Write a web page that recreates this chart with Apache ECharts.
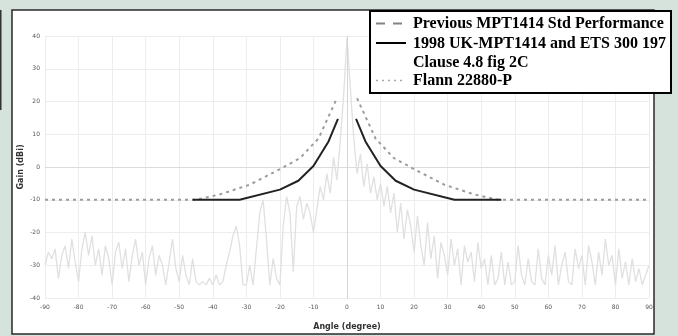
<!DOCTYPE html>
<html>
<head>
<meta charset="utf-8">
<script src="https://cdn.jsdelivr.net/npm/echarts@6/dist/echarts.min.js"></script>
<style>html,body{margin:0;padding:0;background:#d5e3dc;}#c{width:678px;height:336px;}</style>
</head>
<body>
<div id="c"></div>
<script>
// Angle axis ticks (degrees) and gain axis ticks (dBi)
const xTicks = [-90,-80,-70,-60,-50,-40,-30,-20,-10,0,10,20,30,40,50,60,70,80,90];
const yTicks = [-40,-30,-20,-10,0,10,20,30,40];

// Previous MPT1414 Std Performance envelope
const prevAngles = [-90,-45,-38,-29,-21,-14,-8.5,-3, 0, 3,8.5,14,21,29,38,45,90];
const prevGain   = [-10,-10,-8.4,-5.4,-1.2,2.7,8.7,21, null, 21,8.7,2.7,-1.2,-5.4,-8.4,-10,-10];

// 1998 UK-MPT1414 and ETS 300 197 Clause 4.8 fig 2C envelope
const newAngles = [-46,-32,-20,-14.5,-10,-5.5,-2.7, 0, 2.7,5.5,10,14.5,20,32,46];
const newGain   = [-10,-10,-6.9,-4.2,0.3,7.8,14.7, null, 14.7,7.8,0.3,-4.2,-6.9,-10,-10];

// Flann 22880-P measured pattern, sampled every 1 degree from -90 to 90
const flannStart = -90;
const flannGain = [
 -30,-26,-28,-25,-34,-27,-24,-31,-22,-29,
 -35,-25,-20,-27,-21,-30,-25,-33,-24,-28,
 -36,-26,-23,-31,-25,-35,-27,-22,-30,-26,
 -36,-28,-24,-33,-27,-30,-36,-29,-22,-31,
 -35,-27,-33,-36,-28,-35,-36,-35,-36,-34,
 -36,-33,-36,-35,-30,-26,-21,-18,-24,-36,
 -36,-30,-36,-25,-14,-10,-22,-36,-28,-34,
 -36,-18,-9,-14,-32,-12,-9,-16,-11,-14,
 -20,-13,-6,-10,-2,-8,3,-4,8,22,
 39.5,
 24,9,-2,4,-6,1,-8,-3,-10,-5,
 -12,-6,-14,-8,-20,-11,-22,-13,-18,-26,
 -15,-24,-30,-17,-28,-21,-34,-23,-27,-33,
 -22,-30,-25,-36,-24,-29,-26,-35,-23,-31,
 -28,-36,-27,-36,-34,-26,-36,-29,-36,-35,
 -24,-33,-36,-28,-35,-36,-25,-34,-36,-27,
 -33,-24,-36,-30,-26,-35,-36,-25,-31,-27,
 -36,-24,-29,-36,-26,-33,-22,-30,-27,-36,
 -25,-34,-29,-36,-28,-35,-31,-36,-33,-30
];

const legendNames = ['Previous MPT1414 Std Performance', '1998 UK-MPT1414 and ETS 300 197', 'Clause 4.8 fig 2C', 'Flann 22880-P'];

const pair = (xs, ys) => xs.map((x, i) => [x, ys[i]]);
const flannData = flannGain.map((g, i) => [flannStart + i, g]);

const chart = echarts.init(document.getElementById('c'), null, {renderer: 'canvas'});
const legFont = 'bold 16px "Liberation Serif", "Times New Roman", serif';
chart.setOption({
  backgroundColor: '#d5e3dc',
  animation: false,
  grid: {left: 45, right: 29, top: 36, bottom: 34, containLabel: false},
  xAxis: {
    type: 'value', min: xTicks[0], max: xTicks[xTicks.length - 1], interval: 10,
    name: 'Angle (degree)', nameLocation: 'middle', nameGap: 25,
    nameTextStyle: {fontSize: 8, fontWeight: 'bold', color: '#333', fontFamily: 'DejaVu Sans'},
    axisLine: {show: true, lineStyle: {color: '#dcdcdc', width: 1}},
    axisTick: {show: false},
    axisLabel: {fontSize: 6, color: '#555', margin: 6, fontFamily: 'DejaVu Sans'},
    splitLine: {show: true, lineStyle: {color: '#ededed', width: 1}}
  },
  yAxis: {
    type: 'value', min: yTicks[0], max: yTicks[yTicks.length - 1], interval: 10,
    name: 'Gain (dBi)', nameLocation: 'middle', nameGap: 20, nameRotate: 90,
    nameMoveOverlap: false,
    nameTextStyle: {fontSize: 8, fontWeight: 'bold', color: '#333', fontFamily: 'DejaVu Sans'},
    axisLine: {show: true, lineStyle: {color: '#e6e6e6', width: 1}},
    axisTick: {show: false},
    axisLabel: {fontSize: 6, color: '#555', margin: 5, fontFamily: 'DejaVu Sans'},
    splitLine: {show: true, lineStyle: {color: '#ededed', width: 1}}
  },
  series: [
    {
      name: legendNames[3], type: 'line', data: flannData, symbol: 'none', z: 1,
      lineStyle: {color: '#e0e0e0', width: 1.3},
      markLine: {silent: true, symbol: 'none', label: {show: false},
        lineStyle: {color: '#d6d6d6', width: 1, type: 'solid'}, data: [{xAxis: 0}]}
    },
    {
      name: legendNames[0], type: 'line', data: pair(prevAngles, prevGain), symbol: 'none', z: 3,
      connectNulls: false,
      lineStyle: {color: '#9c9c9c', width: 2, type: [3, 4]}
    },
    {
      name: legendNames[1], type: 'line', data: pair(newAngles, newGain), symbol: 'none', z: 4,
      connectNulls: false,
      lineStyle: {color: '#222', width: 2}
    }
  ],
  graphic: [
    {type: 'rect', z: -10, shape: {x: 12, y: 10, width: 642, height: 324},
      style: {fill: '#fff', stroke: '#2a2a2a', lineWidth: 1.5}},
    {type: 'rect', z: -10, shape: {x: 0, y: 10, width: 1.5, height: 100},
      style: {fill: '#333'}},
    {type: 'rect', z: 100, shape: {x: 370, y: 11, width: 301, height: 82},
      style: {fill: '#fff', stroke: '#000', lineWidth: 2}},
    {type: 'line', z: 101, shape: {x1: 376, y1: 23.5, x2: 406, y2: 23.5},
      style: {stroke: '#8a8282', lineWidth: 2, lineDash: [9, 8]}},
    {type: 'line', z: 101, shape: {x1: 376, y1: 43, x2: 406, y2: 43},
      style: {stroke: '#000', lineWidth: 2}},
    {type: 'line', z: 101, shape: {x1: 376, y1: 80.5, x2: 406, y2: 80.5},
      style: {stroke: '#aaa', lineWidth: 1.5, lineDash: [2, 4]}},
    {type: 'text', z: 101, style: {x: 413, y: 24, text: legendNames[0], font: legFont, fill: '#000', textVerticalAlign: 'middle'}},
    {type: 'text', z: 101, style: {x: 413, y: 44, text: legendNames[1], font: legFont, fill: '#000', textVerticalAlign: 'middle'}},
    {type: 'text', z: 101, style: {x: 413, y: 63, text: legendNames[2], font: legFont, fill: '#000', textVerticalAlign: 'middle'}},
    {type: 'text', z: 101, style: {x: 413, y: 81, text: legendNames[3], font: legFont, fill: '#000', textVerticalAlign: 'middle'}}
  ]
});
</script>
</body>
</html>
